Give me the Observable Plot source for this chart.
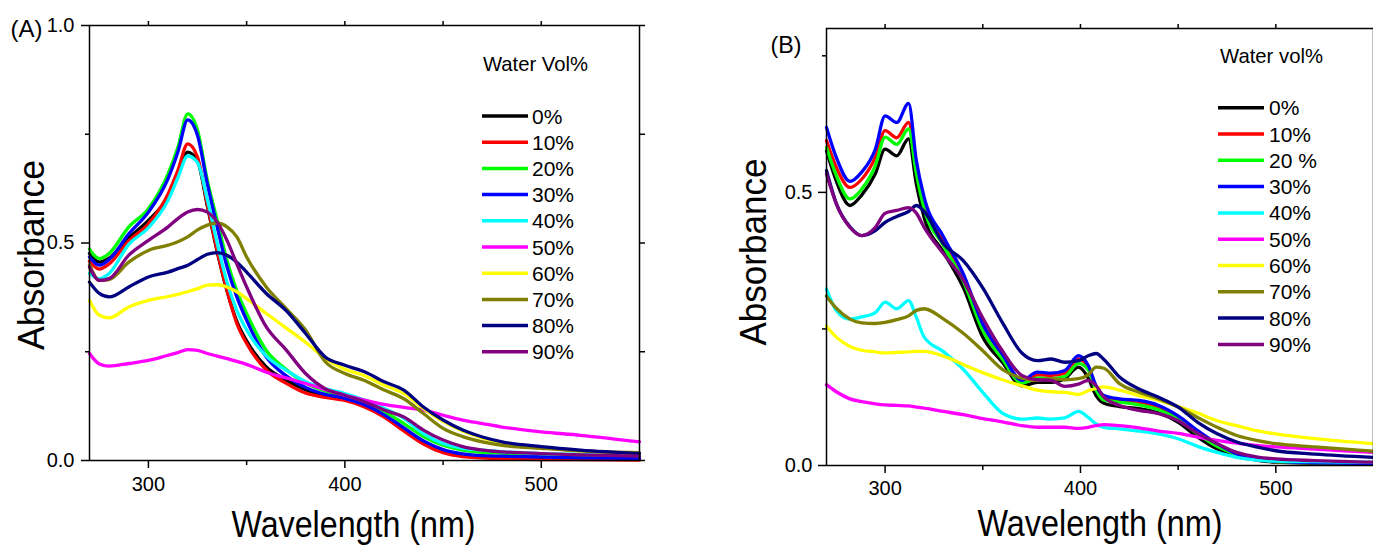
<!DOCTYPE html>
<html><head><meta charset="utf-8">
<script src="https://cdn.jsdelivr.net/npm/d3@7"></script>
<script src="https://cdn.jsdelivr.net/npm/@observablehq/plot@0.6"></script>
<style>
html,body{margin:0;padding:0;background:#fff;}
#wrap{position:relative;width:1373px;height:546px;overflow:hidden;background:#fff;font-family:'Liberation Sans',Arial,sans-serif;}
#wrap > svg{position:absolute;top:0;}
</style></head><body><div id="wrap"></div>
<script>
// ---------- shared ----------
const seriesColors = ["#000000","#ff0000","#00ff00","#0000ff","#00ffff","#ff00ff","#ffff00","#808000","#000080","#800080"];
const labelsA = ["0%","10%","20%","30%","40%","50%","60%","70%","80%","90%"];
const labelsB = ["0%","10%","20 %","30%","40%","50%","60%","70%","80%","90%"];
const xMajorTicks = [300,400,500];
const xMinorTicks = [350,450];

// ---------- panel A ----------
const wlA = [270,275,280,290,300,310,315,320,325,330,335,340,345,350,360,370,380,390,400,410,420,430,440,450,460,470,480,500,520,550];
const A0  = [.476,.456,.465,.512,.552,.606,.655,.709,.688,.585,.48,.39,.32,.275,.215,.185,.163,.15,.142,.127,.103,.072,.043,.022,.012,.008,.006,.004,.003,.003];
const A10 = [.458,.44,.452,.505,.544,.613,.667,.728,.697,.59,.483,.391,.315,.269,.208,.178,.155,.145,.138,.123,.1,.068,.038,.018,.009,.006,.004,.002,.002,.001];
const A20 = [.486,.464,.476,.537,.579,.659,.72,.797,.759,.644,.552,.46,.39,.338,.253,.21,.178,.16,.148,.133,.112,.085,.055,.035,.024,.019,.017,.013,.011,.01];
const A30 = [.468,.449,.462,.521,.571,.648,.709,.783,.747,.636,.537,.445,.376,.322,.238,.195,.168,.152,.143,.128,.105,.075,.045,.025,.015,.011,.01,.008,.006,.005];
const A40 = [.43,.418,.43,.497,.535,.598,.65,.70,.685,.60,.50,.41,.345,.30,.24,.208,.181,.165,.154,.139,.12,.097,.062,.039,.028,.024,.02,.016,.014,.012];
const A50 = [.246,.222,.217,.223,.23,.242,.248,.255,.253,.246,.24,.234,.228,.221,.203,.19,.177,.163,.15,.139,.129,.122,.116,.104,.093,.085,.077,.066,.058,.043];
const A60 = [.368,.334,.328,.353,.368,.377,.382,.388,.395,.403,.404,.399,.388,.372,.338,.305,.272,.235,.21,.195,.173,.154,.12,.09,.068,.052,.041,.03,.022,.015];
const A70 = [.45,.414,.416,.456,.483,.495,.503,.514,.53,.541,.546,.537,.514,.468,.399,.35,.3,.227,.2,.184,.162,.142,.108,.074,.055,.043,.035,.028,.022,.018];
const A80 = [.41,.384,.376,.399,.422,.433,.441,.449,.462,.474,.478,.472,.456,.433,.384,.345,.292,.238,.219,.204,.181,.162,.123,.093,.07,.054,.043,.032,.024,.016];
const A90 = [.445,.414,.418,.472,.506,.537,.556,.571,.577,.571,.548,.506,.452,.399,.307,.255,.2,.165,.15,.135,.116,.1,.07,.047,.032,.024,.02,.016,.013,.01];
const yTicksA = [0,0.5,1.0];
const yMinorA = [0.25,0.75];

// ---------- panel B ----------
const wlB = [270,275,282,288,295,300,306,312,316,320,330,340,350,360,370,378,385,392,399,404,408,412,420,430,440,450,460,470,480,490,500,520,550];
const B0  = [.576,.521,.476,.495,.534,.579,.567,.598,.515,.454,.39,.326,.235,.189,.146,.152,.152,.159,.18,.16,.128,.114,.108,.104,.096,.079,.052,.03,.016,.01,.006,.004,.003];
const B10 = [.595,.546,.509,.524,.564,.613,.60,.628,.546,.479,.409,.345,.253,.198,.152,.166,.165,.169,.195,.18,.142,.124,.119,.114,.105,.088,.061,.037,.02,.012,.007,.005,.004];
const B20 = [.582,.531,.488,.506,.549,.601,.588,.616,.534,.47,.402,.338,.247,.195,.151,.16,.159,.163,.187,.175,.138,.12,.116,.111,.102,.085,.058,.035,.02,.012,.007,.005,.004];
const B30 = [.619,.564,.52,.537,.579,.64,.628,.663,.558,.491,.418,.351,.259,.204,.156,.171,.169,.174,.201,.183,.146,.128,.122,.119,.11,.091,.064,.04,.021,.012,.008,.005,.004];
const B40 = [.323,.284,.268,.272,.28,.299,.287,.302,.271,.235,.208,.176,.134,.096,.085,.087,.085,.087,.099,.088,.076,.07,.067,.063,.058,.049,.035,.024,.015,.01,.008,.007,.006];
const B50 = [.148,.135,.122,.117,.113,.111,.11,.109,.107,.105,.099,.093,.086,.08,.073,.07,.07,.07,.068,.07,.073,.075,.073,.069,.063,.059,.052,.046,.041,.037,.034,.03,.024];
const B60 = [.255,.235,.218,.211,.208,.206,.207,.208,.209,.209,.2,.185,.17,.157,.146,.138,.135,.134,.13,.137,.141,.144,.138,.128,.119,.108,.096,.082,.073,.064,.058,.049,.04];
const B70 = [.31,.288,.268,.261,.26,.262,.267,.274,.284,.287,.268,.242,.21,.176,.16,.156,.159,.157,.159,.166,.18,.178,.15,.134,.122,.107,.088,.07,.055,.046,.04,.034,.026];
const B80 = [.54,.48,.437,.421,.43,.445,.456,.465,.476,.465,.405,.375,.325,.262,.206,.192,.195,.189,.192,.201,.205,.194,.162,.14,.125,.107,.079,.058,.043,.034,.027,.021,.015];
const B90 = [.534,.479,.436,.421,.436,.462,.467,.472,.462,.436,.387,.34,.27,.21,.165,.157,.156,.145,.149,.156,.146,.125,.11,.101,.095,.082,.059,.04,.024,.016,.012,.009,.006];
const yTicksB = [0,0.5];
const yMinorB = [0.25,0.75];

const FONT = "'Liberation Sans', Arial, sans-serif";

function panel(o) {
  const data = o.values.flatMap((arr, i) => arr.map((v, j) => ({wl: o.wl[j], abs: v, s: o.labels[i]})));
  const marks = [
    Plot.line(data, {x: "wl", y: "abs", stroke: "s", z: "s", strokeWidth: 3.3, curve: "monotone-x"}),
    Plot.frame({stroke: "black", strokeWidth: 1.5}),
    Plot.axisX({ticks: xMajorTicks, tickSize: 8, tickPadding: o.xPad, fontSize: 20, tickFormat: d3.format("d"), label: null, strokeWidth: 1.5}),
    Plot.axisX({ticks: xMinorTicks, tickSize: 5, tickFormat: () => "", label: null, strokeWidth: 1.5}),
    Plot.axisX({anchor: "top", ticks: [...xMajorTicks, ...xMinorTicks], tickSize: 5, tickFormat: () => "", label: null, strokeWidth: 1.5}),
    Plot.axisY({ticks: o.yMajor, tickSize: 8, tickPadding: o.yPad, fontSize: 20, tickFormat: d3.format(".1f"), label: null, strokeWidth: 1.5}),
    Plot.axisY({ticks: o.yMinor, tickSize: 4, tickFormat: () => "", label: null, strokeWidth: 1.5}),
    Plot.axisY({anchor: "right", ticks: [...o.yMajor, ...o.yMinor], tickSize: 5, tickFormat: () => "", label: null, strokeWidth: 1.5}),
    Plot.text([o.xTitle], {frameAnchor: "bottom", textAnchor: "middle", lineAnchor: "bottom", dx: o.xTdx, dy: o.xTdy, fontSize: 36, fill: "black"}),
    Plot.text([o.yTitle], {frameAnchor: "left", textAnchor: "middle", lineAnchor: "bottom", rotate: -90, dx: o.yTdx, dy: o.yTdy, fontSize: 36, fill: "black"}),
    Plot.text([o.tag], {frameAnchor: "top-left", textAnchor: "start", lineAnchor: "middle", dx: o.tagDx, dy: o.tagDy, fontSize: 24, fill: "black"})
  ];
  const svg = Plot.plot({
    width: o.width, height: 546,
    marginLeft: o.ml, marginRight: o.mr, marginTop: o.mt, marginBottom: o.mb,
    style: {fontFamily: FONT, background: "transparent", color: "black", overflow: "visible"},
    x: {domain: [270, 550]},
    y: {domain: [0, o.yMax]},
    color: {domain: o.labels, range: seriesColors},
    marks
  });
  const s = d3.select(svg);
  s.selectAll("text").filter(function(){ return this.textContent === o.xTitle; })
    .attr("textLength", o.xTLen).attr("lengthAdjust", "spacingAndGlyphs");
  s.selectAll("text").filter(function(){ return this.textContent === o.yTitle; })
    .attr("textLength", o.yTLen).attr("lengthAdjust", "spacingAndGlyphs");
  s.selectAll("text").filter(function(){ return this.textContent === o.tag; })
    .attr("textLength", o.tagLen).attr("lengthAdjust", "spacingAndGlyphs");
  svg.style.left = o.left + "px";
  return svg;
}

const wrap = document.getElementById("wrap");

wrap.appendChild(panel({
  wl: wlA, values: [A0,A10,A20,A30,A40,A50,A60,A70,A80,A90], labels: labelsA,
  yMax: 1.0, yMajor: yTicksA, yMinor: yMinorA,
  left: 0, width: 680, ml: 89, mr: 41, mt: 25, mb: 86,
  xPad: 8, yPad: 7,
  xTitle: "Wavelength (nm)", xTdx: -11, xTdy: 76, xTLen: 244,
  yTitle: "Absorbance", yTdx: -46, yTdy: 12, yTLen: 190,
  tag: "(A)", tagDx: -79, tagDy: 4, tagLen: 32
}));

wrap.appendChild(panel({
  wl: wlB, values: [B0,B10,B20,B30,B40,B50,B60,B70,B80,B90], labels: labelsB,
  yMax: 0.8, yMajor: yTicksB, yMinor: yMinorB,
  left: 680, width: 700, ml: 146, mr: 7, mt: 28, mb: 81,
  xPad: 7, yPad: 6,
  xTitle: "Wavelength (nm)", xTdx: 0, xTdy: 70, xTLen: 245,
  yTitle: "Absorbance", yTdx: -61, yTdy: 5, yTLen: 187,
  tag: "(B)", tagDx: -56, tagDy: 17, tagLen: 31
}));

// ---------- legends ----------
const legendA = {title: "Water Vol%", titleX: 483, titleY: 71, titleLen: 105, lineX: 482, lineW: 46, textX: 532, rowY: 116, rowDy: 26.2, labels: labelsA};
const legendB = {title: "Water vol%", titleX: 1220, titleY: 63, titleLen: 103, lineX: 1218, lineW: 46, textX: 1269, rowY: 107.7, rowDy: 26.3, labels: labelsB};

const ov = d3.select(wrap).append("svg").attr("width", 1373).attr("height", 546)
  .style("left", "0px").style("font-family", FONT);
for (const L of [legendA, legendB]) {
  ov.append("text").attr("x", L.titleX).attr("y", L.titleY).attr("font-size", 21)
    .attr("textLength", L.titleLen).attr("lengthAdjust", "spacingAndGlyphs").text(L.title);
  L.labels.forEach((lab, i) => {
    const y = L.rowY + i * L.rowDy;
    ov.append("line").attr("x1", L.lineX).attr("x2", L.lineX + L.lineW).attr("y1", y).attr("y2", y)
      .attr("stroke", seriesColors[i]).attr("stroke-width", 3.5);
    ov.append("text").attr("x", L.textX).attr("y", y).attr("dy", "0.36em").attr("font-size", 21).text(lab);
  });
}
</script></body></html>
